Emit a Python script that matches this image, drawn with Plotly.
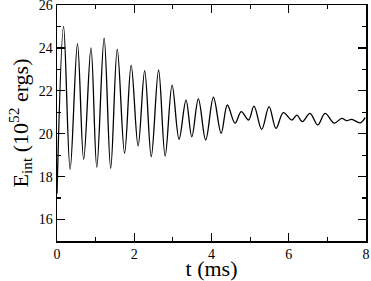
import plotly.graph_objects as go

# Extremes of the oscillation (time in ms, energy in 1e52 ergs)
t_ms = [0.0, 0.17, 0.34, 0.53, 0.69, 0.88, 1.03, 1.22, 1.39, 1.56, 1.75, 1.92, 2.10, 2.27,
        2.44, 2.63, 2.80, 2.98, 3.16, 3.34, 3.49, 3.66, 3.85, 4.05, 4.25, 4.41, 4.61, 4.77,
        4.96, 5.10, 5.30, 5.49, 5.67, 5.86, 6.08, 6.21, 6.35, 6.55, 6.75, 6.94, 7.18, 7.37,
        7.50, 7.63, 7.85, 7.98]
e_int = [17.2, 25.0, 18.34, 24.2, 18.8, 24.0, 18.44, 24.45, 18.39, 23.94, 19.09, 23.2, 19.43, 22.94,
         18.93, 22.97, 18.96, 22.27, 19.74, 21.57, 19.86, 21.62, 19.71, 21.7, 20.02, 21.34, 20.49, 21.03,
         20.64, 21.29, 20.2, 21.26, 20.25, 20.98, 20.64, 20.87, 20.56, 20.95, 20.41, 20.95, 20.49, 20.72,
         20.61, 20.67, 20.51, 20.75]

x_ticks = [0, 2, 4, 6, 8]
y_ticks = [16, 18, 20, 22, 24, 26]

fig = go.Figure()
fig.add_trace(go.Scatter(x=t_ms, y=e_int, mode="lines",
                         line=dict(color="black", width=1.3, shape="spline", smoothing=1.0),
                         showlegend=False, hoverinfo="skip"))

font = dict(family="Liberation Serif, Times New Roman, serif", color="black")
axis_common = dict(showgrid=False, zeroline=False, showline=True, linecolor="black", linewidth=1.5,
                   mirror="ticks", ticks="inside", ticklen=8, tickwidth=1.2, tickcolor="black",
                   tickfont=dict(size=14, **font), ticklabeloverflow="allow")

fig.update_xaxes(range=[0, 8], tickvals=x_ticks, ticktext=[str(v) for v in x_ticks],
                 title=dict(text="t (ms)", font=dict(size=22, **font), standoff=2),
                 minor=dict(ticks="inside", ticklen=4, dtick=1, tick0=0, tickcolor="black", tickwidth=1.2),
                 **axis_common)
fig.update_yaxes(range=[15, 26], tickvals=y_ticks, ticktext=[str(v) for v in y_ticks],
                 title=dict(text="E<sub>int</sub> (10<sup>52</sup> ergs)", font=dict(size=22, **font), standoff=4),
                 minor=dict(ticks="inside", ticklen=4, dtick=1, tick0=15, tickcolor="black", tickwidth=1.2),
                 **axis_common)

fig.update_layout(width=371, height=281, margin=dict(l=57, r=5, t=5, b=40, autoexpand=False),
                  paper_bgcolor="white", plot_bgcolor="white", font=font)

fig.write_html("out.html", config={"displayModeBar": False, "staticPlot": True},
               post_script="document.body.style.margin='0';document.body.style.padding='0';document.body.style.overflow='hidden';")
